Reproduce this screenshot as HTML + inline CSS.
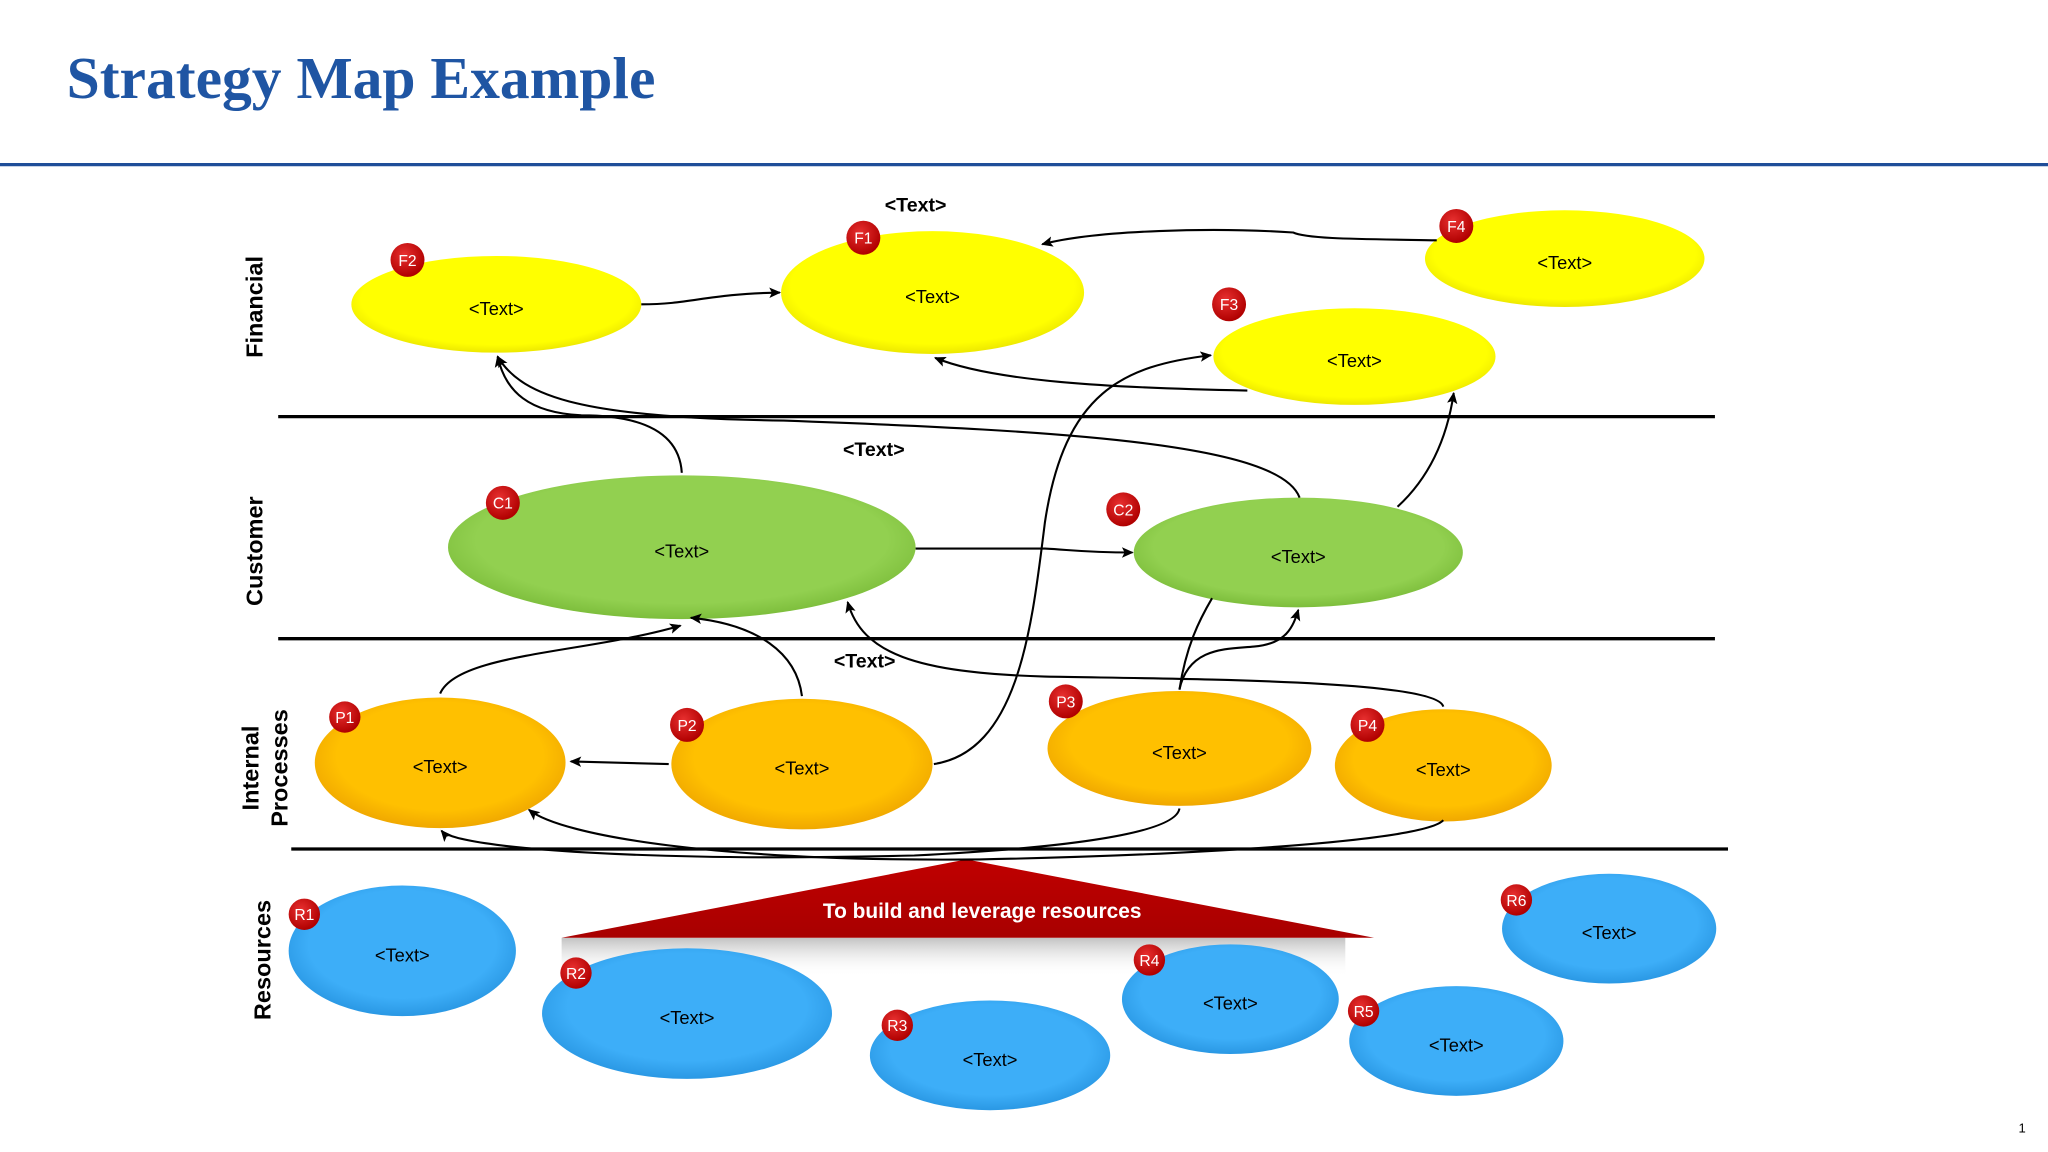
<!DOCTYPE html>
<html><head><meta charset="utf-8"><style>
html,body{margin:0;padding:0;background:#fff;width:2048px;height:1152px;overflow:hidden}
svg{display:block}
</style></head><body>
<svg width="2048" height="1152" viewBox="0 0 1568 882" xmlns="http://www.w3.org/2000/svg">
<defs>
<radialGradient id="gy" cx="50%" cy="45%" r="55%"><stop offset="0.85" stop-color="#FFFF00"/><stop offset="1" stop-color="#EDE800"/></radialGradient>
<radialGradient id="gg" cx="50%" cy="45%" r="55%"><stop offset="0.8" stop-color="#92D050"/><stop offset="1" stop-color="#7DBE3C"/></radialGradient>
<radialGradient id="go" cx="50%" cy="45%" r="55%"><stop offset="0.75" stop-color="#FFC000"/><stop offset="1" stop-color="#F0A800"/></radialGradient>
<radialGradient id="gb" cx="50%" cy="45%" r="55%"><stop offset="0.75" stop-color="#3DAEF8"/><stop offset="1" stop-color="#2A98E4"/></radialGradient>
<radialGradient id="gr" cx="40%" cy="35%" r="65%"><stop offset="0" stop-color="#E83030"/><stop offset="1" stop-color="#B00000"/></radialGradient>
<linearGradient id="tri" x1="0" y1="0" x2="0" y2="1"><stop offset="0" stop-color="#C00000"/><stop offset="1" stop-color="#A80000"/></linearGradient>
<linearGradient id="sh" x1="0" y1="0" x2="0" y2="1"><stop offset="0" stop-color="#999" stop-opacity="0.6"/><stop offset="1" stop-color="#fff" stop-opacity="0"/></linearGradient>
<marker id="a" markerWidth="10" markerHeight="10" refX="8" refY="5" orient="auto" markerUnits="userSpaceOnUse"><path d="M0,1 L9,5 L0,9 L2,5 Z" fill="#000"/></marker>
</defs>
<text x="51" y="75" font-family="Liberation Serif,serif" font-weight="bold" font-size="45.6" fill="#1F55A3">Strategy Map Example</text>
<line x1="0" y1="126" x2="1568" y2="126" stroke="#1F4E99" stroke-width="2.5"/>

<g stroke="#000" stroke-width="2.5">
<line x1="213" y1="319" x2="1313" y2="319"/>
<line x1="213" y1="489" x2="1313" y2="489"/>
<line x1="223" y1="650" x2="1323" y2="650"/>
</g>

<g font-family="Liberation Sans,sans-serif" font-weight="bold" font-size="18" fill="#000" text-anchor="middle">
<text transform="translate(201,235) rotate(-90)">Financial</text>
<text transform="translate(201,422) rotate(-90)">Customer</text>
<text transform="translate(198,588) rotate(-90)">Internal</text>
<text transform="translate(220,588) rotate(-90)">Processes</text>
<text transform="translate(207,735) rotate(-90)">Resources</text>
</g>
<g font-family="Liberation Sans,sans-serif" font-weight="bold" font-size="15" text-anchor="middle">
<text x="701" y="162">&lt;Text&gt;</text>
<text x="669" y="349">&lt;Text&gt;</text>
<text x="662" y="511">&lt;Text&gt;</text>
</g>

<rect x="430" y="718" width="600" height="30" fill="url(#sh)"/>
<polygon points="430,718 740,658 1052,718" fill="url(#tri)"/>
<text x="752" y="703" font-family="Liberation Sans,sans-serif" font-weight="bold" font-size="16" fill="#fff" text-anchor="middle">To build and leverage resources</text>

<g>
<ellipse cx="380" cy="233" rx="111" ry="37" fill="url(#gy)"/>
<ellipse cx="714" cy="224" rx="116" ry="47" fill="url(#gy)"/>
<ellipse cx="1198" cy="198" rx="107" ry="37" fill="url(#gy)"/>
<ellipse cx="1037" cy="273" rx="108" ry="37" fill="url(#gy)"/>
<ellipse cx="522" cy="419" rx="179" ry="55" fill="url(#gg)"/>
<ellipse cx="994" cy="423" rx="126" ry="42" fill="url(#gg)"/>
<ellipse cx="337" cy="584" rx="96" ry="50" fill="url(#go)"/>
<ellipse cx="614" cy="585" rx="100" ry="50" fill="url(#go)"/>
<ellipse cx="903" cy="573" rx="101" ry="44" fill="url(#go)"/>
<ellipse cx="1105" cy="586" rx="83" ry="43" fill="url(#go)"/>
<ellipse cx="308" cy="728" rx="87" ry="50" fill="url(#gb)"/>
<ellipse cx="526" cy="776" rx="111" ry="50" fill="url(#gb)"/>
<ellipse cx="758" cy="808" rx="92" ry="42" fill="url(#gb)"/>
<ellipse cx="942" cy="765" rx="83" ry="42" fill="url(#gb)"/>
<ellipse cx="1115" cy="797" rx="82" ry="42" fill="url(#gb)"/>
<ellipse cx="1232" cy="711" rx="82" ry="42" fill="url(#gb)"/>
</g>
<g font-family="Liberation Sans,sans-serif" font-size="14" text-anchor="middle" fill="#000">
<text x="380" y="241">&lt;Text&gt;</text>
<text x="714" y="232">&lt;Text&gt;</text>
<text x="1198" y="206">&lt;Text&gt;</text>
<text x="1037" y="281">&lt;Text&gt;</text>
<text x="522" y="427">&lt;Text&gt;</text>
<text x="994" y="431">&lt;Text&gt;</text>
<text x="337" y="592">&lt;Text&gt;</text>
<text x="614" y="593">&lt;Text&gt;</text>
<text x="903" y="581">&lt;Text&gt;</text>
<text x="1105" y="594">&lt;Text&gt;</text>
<text x="308" y="736">&lt;Text&gt;</text>
<text x="526" y="784">&lt;Text&gt;</text>
<text x="758" y="816">&lt;Text&gt;</text>
<text x="942" y="773">&lt;Text&gt;</text>
<text x="1115" y="805">&lt;Text&gt;</text>
<text x="1232" y="719">&lt;Text&gt;</text>
</g>

<g fill="none" stroke="#000" stroke-width="1.6" marker-end="url(#a)">
<path d="M491,233 C530,233 540,225 597,224"/>
<path d="M1100,184 C1040,183 1000,183 990,178 C930,174 840,176 798,187"/>
<path d="M955,299 C850,297 760,292 716,274"/>
<path d="M522,362 C520,330 490,318 445,318 C405,316 387,300 381,273"/>
<path d="M995,381 C980,340 820,330 600,322 C450,320 400,305 381,273"/>
<path d="M701,420 L800,420 C820,421 830,423 867,423"/>
<path d="M1070,388 C1095,365 1108,335 1113,301"/>
<path d="M337,531 C350,500 450,500 521,479"/>
<path d="M614,533 C610,500 580,478 529,473"/>
<path d="M512,585 L437,583"/>
<path d="M715,585 C780,575 790,480 800,400 C815,300 860,280 927,272"/>
<path d="M903,528 C910,495 940,497 960,495 C985,493 990,480 994,467"/>
<path d="M1105,541 C1100,520 900,520 800,518 C700,515 660,500 649,461"/>
<path d="M903,619 C900,640 800,650 700,655 C500,660 350,650 338,636"/>
<path d="M1105,628 C1090,645 900,655 750,658 C550,660 430,640 405,620"/>
</g>
<path d="M903,528 C908,495 918,475 928,458" fill="none" stroke="#000" stroke-width="1.6"/>

<g font-family="Liberation Sans,sans-serif" font-size="12" fill="#fff" text-anchor="middle">
<g transform="translate(312,199)"><circle r="13" fill="url(#gr)"/><text y="4.5">F2</text></g>
<g transform="translate(661,182)"><circle r="13" fill="url(#gr)"/><text y="4.5">F1</text></g>
<g transform="translate(1115,173)"><circle r="13" fill="url(#gr)"/><text y="4.5">F4</text></g>
<g transform="translate(941,233)"><circle r="13" fill="url(#gr)"/><text y="4.5">F3</text></g>
<g transform="translate(385,385)"><circle r="13" fill="url(#gr)"/><text y="4.5">C1</text></g>
<g transform="translate(860,390)"><circle r="13" fill="url(#gr)"/><text y="4.5">C2</text></g>
<g transform="translate(264,549)"><circle r="12" fill="url(#gr)"/><text y="4.5">P1</text></g>
<g transform="translate(526,555)"><circle r="13" fill="url(#gr)"/><text y="4.5">P2</text></g>
<g transform="translate(816,537)"><circle r="13" fill="url(#gr)"/><text y="4.5">P3</text></g>
<g transform="translate(1047,555)"><circle r="13" fill="url(#gr)"/><text y="4.5">P4</text></g>
<g transform="translate(233,700)"><circle r="12" fill="url(#gr)"/><text y="4.5">R1</text></g>
<g transform="translate(441,745)"><circle r="12" fill="url(#gr)"/><text y="4.5">R2</text></g>
<g transform="translate(687,785)"><circle r="12" fill="url(#gr)"/><text y="4.5">R3</text></g>
<g transform="translate(880,735)"><circle r="12" fill="url(#gr)"/><text y="4.5">R4</text></g>
<g transform="translate(1044,774)"><circle r="12" fill="url(#gr)"/><text y="4.5">R5</text></g>
<g transform="translate(1161,689)"><circle r="12" fill="url(#gr)"/><text y="4.5">R6</text></g>
</g>
<text x="1551" y="867" font-family="Liberation Sans,sans-serif" font-size="10" text-anchor="end">1</text>
</svg>
</body></html>
